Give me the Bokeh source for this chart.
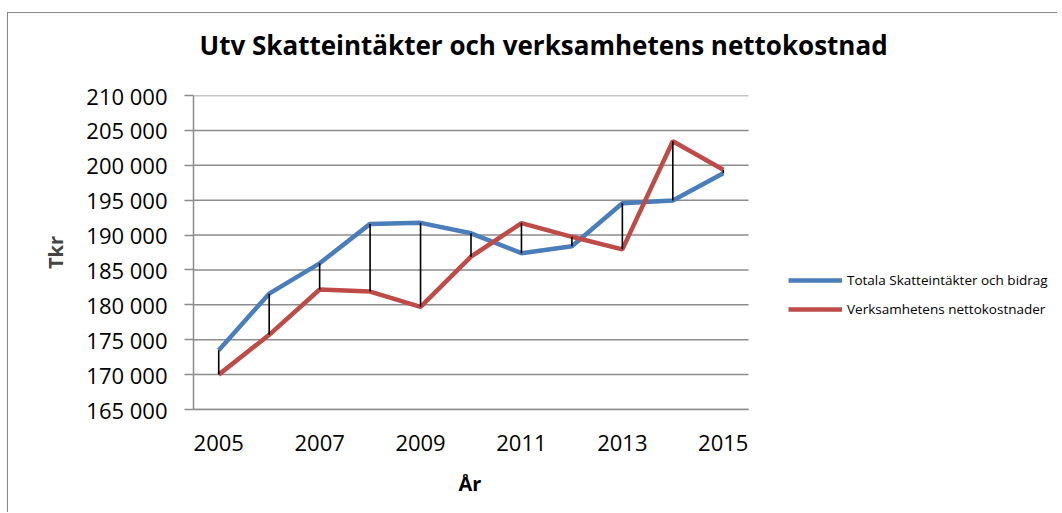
from bokeh.plotting import figure
from bokeh.models import Legend, LegendItem, FixedTicker, Range1d, Title
from bokeh.embed import file_html
from bokeh.resources import INLINE

# ---- data ----
years = [2005, 2006, 2007, 2008, 2009, 2010, 2011, 2012, 2013, 2014, 2015]
totala = [173500, 181600, 185950, 191600, 191750, 190250, 187400, 188400, 194550, 194950, 198850]
netto = [170000, 175700, 182200, 181900, 179700, 186900, 191700, 189750, 187950, 203450, 199350]
series_names = ["Totala Skatteintäkter och bidrag", "Verksamhetens nettokostnader"]
x_tick_years = [2005, 2007, 2009, 2011, 2013, 2015]
y_ticks = [165000, 170000, 175000, 180000, 185000, 190000, 195000, 200000, 205000, 210000]
y_tick_labels = ["165 000", "170 000", "175 000", "180 000", "185 000",
                 "190 000", "195 000", "200 000", "205 000", "210 000"]
title_text = "Utv Skatteintäkter och verksamhetens nettokostnad"
x_title = "År"
y_title = "Tkr"

FONT = "Open Sans"
BLUE = "#4A7EBB"
RED = "#BE4B48"
GRID = "#8C8C8C"

# ---- layout (pixels) ----
W, H = 1050, 500
BORDER_L, BORDER_T, BORDER_B = 185, 82, 104
PLOT_AREA_W = 555                     # width of the category area in px
frame_w = W - BORDER_L
x0 = years[0] - 0.5
x1 = years[-1] + 0.5
px_per_year = PLOT_AREA_W / (x1 - x0)
x_end = x0 + frame_w / px_per_year    # frame extends to the right so the legend fits

p = figure(width=W, height=H, output_backend="svg", toolbar_location=None,
           x_range=Range1d(x0, x_end),
           y_range=Range1d(y_ticks[0], y_ticks[-1]),
           min_border_left=BORDER_L, min_border_right=0,
           min_border_top=BORDER_T, min_border_bottom=BORDER_B,
           styles={"border-left": "1px solid #878787", "border-top": "1px solid #878787"},
           margin=(12, 0, 0, 7))
p.outline_line_color = None
p.background_fill_color = "white"

# title (outermost above panel) with a blank spacer title between it and the frame
p.title.text = title_text
p.title.text_font = FONT
p.title.text_font_style = "bold"
p.title.text_font_size = "26px"
p.title.text_color = "black"
p.title.align = "left"
p.title.offset = 6
p.title.vertical_align = "top"
p.title.standoff = 0
p.add_layout(Title(text=" ", text_font=FONT, text_font_size="10px", standoff=15), "above")

# x axis title as a below-title so it can be centred on the category area
p.add_layout(Title(text=x_title, text_font=FONT, text_font_style="bold",
                   text_font_size="20px", text_color="black",
                   align="left", offset=265, standoff=28), "below")

# axes
p.xaxis.ticker = FixedTicker(ticks=x_tick_years)
p.xaxis.bounds = (x0, x1)
p.xaxis.major_tick_out = 0
p.xaxis.major_tick_in = 0
p.xaxis.minor_tick_line_color = None
p.xaxis.axis_line_color = GRID
p.xaxis.axis_line_width = 1.5
p.xaxis.major_label_text_font = FONT
p.xaxis.major_label_text_font_size = "22px"
p.xaxis.major_label_text_color = "black"
p.xaxis.major_label_standoff = 25

p.yaxis.ticker = FixedTicker(ticks=y_ticks)
p.yaxis.major_label_overrides = {t: l for t, l in zip(y_ticks, y_tick_labels)}
p.yaxis.major_tick_out = 9
p.yaxis.major_tick_in = 0
p.yaxis.major_tick_line_color = GRID
p.yaxis.major_tick_line_width = 1.5
p.yaxis.minor_tick_line_color = None
p.yaxis.axis_line_color = GRID
p.yaxis.axis_line_width = 1.5
p.yaxis.major_label_text_font = FONT
p.yaxis.major_label_text_font_size = "22px"
p.yaxis.major_label_text_color = "black"
p.yaxis.major_label_standoff = 17
p.yaxis.axis_label = y_title
p.yaxis.axis_label_text_font = FONT
p.yaxis.axis_label_text_font_style = "bold"
p.yaxis.axis_label_text_font_size = "20px"
p.yaxis.axis_label_standoff = 14

p.xgrid.grid_line_color = None
p.ygrid.grid_line_color = None
# horizontal gridlines limited to the category area
p.segment(x0=[x0] * len(y_ticks), y0=y_ticks, x1=[x1] * len(y_ticks), y1=y_ticks,
          line_color=GRID, line_width=1.5)

# series
r1 = p.line(years, totala, line_color=BLUE, line_width=4.5)
r2 = p.line(years, netto, line_color=RED, line_width=4.5)
# high-low lines
p.segment(x0=years, y0=totala, x1=years, y1=netto, line_color="black", line_width=1.6)

legend = Legend(items=[LegendItem(label=series_names[0], renderers=[r1]),
                       LegendItem(label=series_names[1], renderers=[r2])],
                location=(595, 90))
legend.border_line_color = None
legend.background_fill_alpha = 0
legend.padding = 0
legend.margin = 0
legend.spacing = 9
legend.glyph_width = 54
legend.glyph_height = 20
legend.label_height = 20
legend.label_standoff = 5
legend.label_text_font = FONT
legend.label_text_font_size = "13.5px"
legend.label_text_color = "black"
p.add_layout(legend)

open("out.html", "w").write(file_html(p, INLINE))
